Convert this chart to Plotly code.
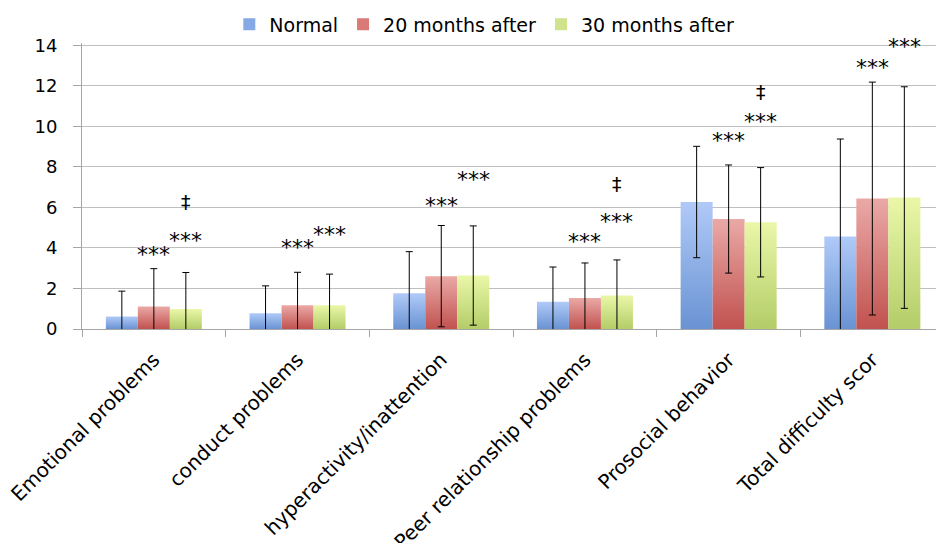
import plotly.graph_objects as go

categories = ["Emotional problems", "conduct problems", "hyperactivity/inattention",
              "Peer relationship problems", "Prosocial behavior", "Total difficulty scor"]
series_names = ["Normal", "20 months after", "30 months after"]

normal_mean = [0.62, 0.78, 1.76, 1.34, 6.27, 4.57]
normal_sd = [1.25, 1.35, 2.06, 1.72, 2.75, 4.81]
m20_mean = [1.11, 1.17, 2.61, 1.53, 5.43, 6.44]
m20_sd = [1.87, 1.63, 2.50, 1.73, 2.67, 5.75]
m30_mean = [0.99, 1.17, 2.64, 1.66, 5.27, 6.49]
m30_sd = [1.80, 1.54, 2.45, 1.75, 2.70, 5.47]

# significance markers: category index, series index, label, y value
sig_cat = [0, 0, 0, 1, 1, 2, 2, 3, 3, 3, 4, 4, 4, 5, 5]
sig_series = [1, 2, 2, 1, 2, 1, 2, 1, 2, 2, 1, 2, 2, 1, 2]
sig_text = ["***", "***", "‡", "***", "***", "***", "***", "***", "***", "‡",
            "***", "***", "‡", "***", "***"]
sig_y = [3.80, 4.47, 6.25, 4.13, 4.78, 6.20, 7.47, 4.42, 5.43, 7.18,
         9.43, 10.36, 11.71, 13.02, 14.03]

means = [normal_mean, m20_mean, m30_mean]
sds = [normal_sd, m20_sd, m30_sd]
grad_bottom = ["#6a93d3", "#c1524f", "#b3cd68"]
grad_top = ["#b0caf8", "#eaa9a6", "#eaf7a8"]
legend_col = ["#86a9e6", "#d97a77", "#cfe38c"]

BW = 0.2227  # bar width in category units
offsets = [-BW, 0.0, BW]
FONT = "DejaVu Sans"
YMAX = 14.1
XRANGE = [-0.5, 5.443]

fig = go.Figure()

# legend entries (zero-height bars on the category axis)
for s in range(3):
    fig.add_trace(go.Bar(x=categories, y=[0] * len(categories), name=series_names[s],
                         xaxis="x2", marker=dict(color=legend_col[s], line=dict(width=0)),
                         hoverinfo="skip"))

# gradient-filled bars
for s in range(3):
    for i, v in enumerate(means[s]):
        c = i + offsets[s]
        x0, x1 = c - BW / 2, c + BW / 2
        fig.add_trace(go.Scatter(
            x=[x0, x0, x1, x1, x0], y=[0, v, v, 0, 0],
            mode="lines", fill="toself", line=dict(width=0),
            fillgradient=dict(type="vertical",
                              colorscale=[[0, grad_bottom[s]], [1, grad_top[s]]]),
            showlegend=False, hoverinfo="skip"))

# error bars
for s in range(3):
    xs = [i + offsets[s] for i in range(len(categories))]
    fig.add_trace(go.Scatter(
        x=xs, y=means[s], mode="markers", marker=dict(size=1, opacity=0),
        error_y=dict(type="data", array=sds[s], visible=True, color="black",
                     thickness=1, width=3.5),
        showlegend=False, hoverinfo="skip"))

for k in range(len(sig_text)):
    xpos = sig_cat[k] + offsets[sig_series[k]]
    is_star = sig_text[k] == "***"
    fig.add_annotation(x=xpos, y=sig_y[k], text=sig_text[k], showarrow=False,
                       xanchor="center", yanchor="middle",
                       yshift=-2 if is_star else 0,
                       font=dict(family=FONT, size=22 if is_star else 19, color="black"))

fig.update_layout(
    width=936, height=543,
    margin=dict(l=82, r=0, t=41, b=214, pad=0),
    paper_bgcolor="white", plot_bgcolor="white",
    font=dict(family=FONT, color="black"),
    showlegend=True,
    legend=dict(orientation="h", xref="container", yref="container",
                x=0.245, xanchor="left", y=0.955, yanchor="middle",
                font=dict(family=FONT, size=19, color="black"),
                itemwidth=30, tracegroupgap=0),
    xaxis=dict(range=XRANGE, showticklabels=False, ticks="", showgrid=False,
               zeroline=False, showline=True, linecolor="#a6a6a6", linewidth=1,
               automargin=False, fixedrange=True),
    xaxis2=dict(type="category", overlaying="x", side="bottom", range=XRANGE,
                categoryorder="array", categoryarray=categories,
                tickangle=-45, tickfont=dict(family=FONT, size=20, color="black"),
                showgrid=False, zeroline=False, showline=False,
                ticks="outside", tickson="boundaries", ticklen=7, tickcolor="#a6a6a6",
                ticklabelstandoff=14, automargin=False, fixedrange=True),
    yaxis=dict(range=[0, YMAX], tickvals=[0, 2, 4, 6, 8, 10, 12, 14],
               tickfont=dict(family=FONT, size=18, color="black"),
               showgrid=True, gridcolor="#bfbfbf", gridwidth=1, zeroline=False,
               showline=True, linecolor="#a6a6a6", linewidth=1,
               ticks="outside", ticklen=8, tickcolor="#a6a6a6", ticklabelstandoff=12,
               automargin=False, fixedrange=True),
)

fig.write_html("out.html", config={"displayModeBar": False},
               post_script="document.body.style.margin='0';document.body.style.overflow='hidden';")
